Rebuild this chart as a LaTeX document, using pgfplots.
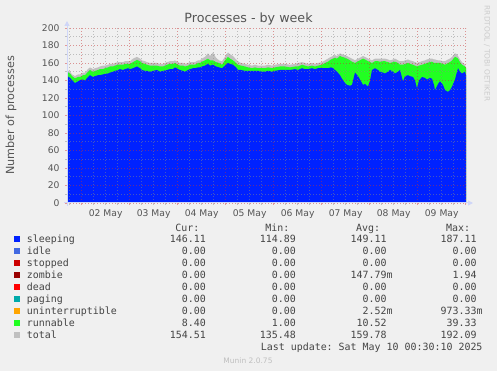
\documentclass[border=0pt]{standalone}
\usepackage{fontspec}
\setmainfont{DejaVu Sans}
\setmonofont{DejaVu Sans Mono}
\usepackage{pgfplots}
\pgfplotsset{compat=1.18}
\usepackage{pgfplotstable}
\usetikzlibrary{arrows.meta}

\definecolor{bg}{HTML}{F0F0F0}
\definecolor{sleepc}{HTML}{0022FF}
\definecolor{idlec}{HTML}{4169E1}
\definecolor{stopc}{HTML}{CC0000}
\definecolor{zombc}{HTML}{990000}
\definecolor{deadc}{HTML}{FF0000}
\definecolor{pagec}{HTML}{00AAAA}
\definecolor{uninc}{HTML}{FFA500}
\definecolor{runc}{HTML}{22FF22}
\definecolor{totc}{HTML}{C0C0C0}
\definecolor{txt}{HTML}{555555}
\definecolor{legtxt}{HTML}{444444}
\definecolor{mgrid}{HTML}{C53535}
\definecolor{gridc}{HTML}{898989}
\definecolor{mtick}{HTML}{E29A9A}
\definecolor{axisc}{HTML}{CFD6F8}

% px = horizontal position on the time axis (48 units per day, 02 May 00:00 at 81.7)
\pgfplotstableread{
px sleep run total
67 145 5 152
70 143 5 150
72 140.5 4.5 147
75 137 5.5 145
78 139 5 147
80 140.5 3.5 147
83 141 5 149
85 140 6 149
88 144 6 153
90 146 6 155
93 144 6 153
95 145 6 154
98 146 6 155
100 146 7 156
103 147 6 157
105 147.5 6.5 157
108 148 7 158
110 149 7 159
113 150 6 159
115 151 6 160
118 152 6 161
120 153 5 161
123 152 6 161
125 153 6 162
128 154 5 162
130 153 6 162
133 154 7 165
137 156 7.5 167
140 154 8 165
142 152 8 163
145 151 8 162
147 151 7 161
150 150 7 160
153 151 6 160
157 152 5 160
160 150 6 159
163 151 5 159
167 152 6 161
170 153 6 162
173 153 6 162
175 155 5 163
178 153 5 161
180 152 5 160
183 151 6 160
185 150 6 159
188 152 5 160
190 153 5 161
193 154 4 161
195 154 4 161
198 155 5 163
200 155 5 163
202 156 5.5 165
205 157 6 167
208 159 6 171
210 157 6 168
213 158 5 172
216 156 5 166
219 155 5 163
222 154 4 162
225 157 6 167
228 160 7 172
230 159 6 170
233 158 5 168
236 155 5 164
238 152 6 162
241 152 5 160
245 151 5 159
248 151 4 158
252 151 3 157
255 151 4 158
258 151 3 157
262 150 4 157
265 150 4 157
268 151 4 158
272 150 4 157
275 151 4 158
280 152 4 159
285 152 4 159
290 152 3 158
295 153 3 159
298 152 4 160
302 154 4 161
305 153 4 160
308 153 3 159
312 154 3 160
315 153 3 159
318 154 3 160
322 154 4 161
325 154 6 163
328 154 7.5 165
331 155 9 167
333 154 11 168
335 152 14 169
337 150 15 168
340 146 22 171
342 142 25 170
345 137 29 169
347 135 30 168
350 134 29 166
352 135 26.5 165
355 149 11 163
358 145 17 165
360 141 22 166
363 135 30 168
365 136 28 167
368 133 29 165
370 140 21 164
372 152 8 163
375 154 8 165
378 152 10 165
380 150 11.5 165
383 149 13 165
385 148 14 165
388 150 11 164
390 152 8 163
393 150 11 164
395 148 13.5 165
398 150 10 163
400 152 6 162
403 139 19 162
405 145 14 163
408 146 14 164
410 145 14 163
413 144 14 162
415 140 17 161
417 131 25 160
419 140 17 161
422 144 14 162
425 143 16 163
427 141 19 164
430 143 18 165
432 142 19.5 165
434 135 25 164
435 129 31 164
438 136 24 163
440 139 21 163
443 135 24 162
445 129 29 162
448 127 33 164
450 129 32 165
452 133 30 167
455 141 26 171
457 150 16 170
458 154 11 168
460 150 11 164
462 148 10 161
465 150 6 158
466 146.11 8.40 154.51
}\procdata

\newcommand{\legrow}[6]{%
  \fill[#2] (14,{371-#1-2.8}) rectangle ++(5.6,5.6);
  \node[anchor=mid west,inner sep=0pt] at (26.7,{371-#1}) {#3};
  \node[anchor=mid east,inner sep=0pt] at (212,{371-#1}) {#4};
  \node[anchor=mid east,inner sep=0pt] at (302,{371-#1}) {#5};
  \node[anchor=mid east,inner sep=0pt] at (392.7,{371-#1}) {#6};
}
\newcommand{\legmax}[2]{\node[anchor=mid east,inner sep=0pt] at (482.7,{371-#1}) {#2};}
\newcommand{\pp}{\phantom{m}}

\begin{document}
\begin{tikzpicture}[x=1pt,y=1pt]
\fill[bg] (0,0) rectangle (497,371);
\begin{axis}[
  at={(67pt,168pt)}, anchor=south west,
  scale only axis, width=399pt, height=175pt,
  xmin=67, xmax=466, ymin=0, ymax=200,
  axis on top,
  axis line style={draw=none},
  xtick={81.7,129.7,177.7,225.7,273.7,321.7,369.7,417.7,465.7},
  xticklabels={},
  minor xtick={69.7,93.7,105.7,117.7,141.7,153.7,165.7,189.7,201.7,213.7,237.7,249.7,261.7,285.7,297.7,309.7,333.7,345.7,357.7,381.7,393.7,405.7,429.7,441.7,453.7},
  extra x ticks={105.7,153.7,201.7,249.7,297.7,345.7,393.7,441.7},
  extra x tick labels={02 May,03 May,04 May,05 May,06 May,07 May,08 May,09 May},
  extra x tick style={grid=none, major tick length=0pt},
  ytick={0,20,...,200},
  minor ytick={10,30,...,190},
  grid=both,
  major grid style={mgrid, opacity=0.5, dash pattern=on 1pt off 2pt, line width=0.6pt},
  minor grid style={gridc, opacity=0.5, dash pattern=on 1pt off 2pt, line width=0.6pt},
  tick align=outside,
  xtick pos=left, ytick pos=left,
  major tick length=2pt, minor tick length=2pt,
  major tick style={mtick, line width=0.6pt},
  minor tick style={black!25, line width=0.6pt},
  tick label style={font=\fontsize{9.2}{10}\selectfont, text=txt},
  /pgf/number format/assume math mode=true,
  xticklabel style={yshift=-3pt},
  yticklabel style={xshift=-2pt},
]
\addplot[fill=totc, draw=none] table[x=px, y=total] {\procdata} \closedcycle;
\addplot[fill=runc, draw=none] table[x=px, y expr=\thisrow{sleep}+\thisrow{run}] {\procdata} \closedcycle;
\addplot[fill=sleepc, draw=none] table[x=px, y=sleep] {\procdata} \closedcycle;
\end{axis}
% axis arrows
\draw[axisc, line width=1pt, -{Triangle[length=5pt,width=5pt]}] (67,165) -- (67,350);
\draw[axisc, line width=1pt, -{Triangle[length=5pt,width=5pt]}] (64,168) -- (473,168);
% title and labels
\node[text=txt, font=\fontsize{12.7}{15}\selectfont] at (248.5,351.5) {Processes - by week};
\node[text=txt, rotate=90, font=\fontsize{11.2}{13}\selectfont] at (11,255.5) {Number of processes};
\node[text=black!20, rotate=-90, font=\fontsize{7.4}{9}\selectfont] at (487,317.5) {RRDTOOL / TOBI OETIKER};
% legend
\begin{scope}[text=legtxt, font=\ttfamily\fontsize{9.95}{12}\selectfont]
\node[anchor=mid east,inner sep=0pt] at (199.5,{371-228.3}) {Cur:};
\node[anchor=mid east,inner sep=0pt] at (289.5,{371-228.3}) {Min:};
\node[anchor=mid east,inner sep=0pt] at (380.2,{371-228.3}) {Avg:};
\node[anchor=mid east,inner sep=0pt] at (470.2,{371-228.3}) {Max:};
\legrow{239.3}{sleepc}{sleeping}{146.11\pp}{114.89\pp}{149.11\pp}\legmax{239.3}{187.11\pp}
\legrow{251.3}{idlec}{idle}{0.00\pp}{0.00\pp}{0.00\pp}\legmax{251.3}{0.00\pp}
\legrow{263.3}{stopc}{stopped}{0.00\pp}{0.00\pp}{0.00\pp}\legmax{263.3}{0.00\pp}
\legrow{275.3}{zombc}{zombie}{0.00\pp}{0.00\pp}{147.79m}\legmax{275.3}{1.94\pp}
\legrow{287.3}{deadc}{dead}{0.00\pp}{0.00\pp}{0.00\pp}\legmax{287.3}{0.00\pp}
\legrow{299.3}{pagec}{paging}{0.00\pp}{0.00\pp}{0.00\pp}\legmax{299.3}{0.00\pp}
\legrow{311.3}{uninc}{uninterruptible}{0.00\pp}{0.00\pp}{2.52m}\legmax{311.3}{973.33m}
\legrow{323.3}{runc}{runnable}{8.40\pp}{1.00\pp}{10.52\pp}\legmax{323.3}{39.33\pp}
\legrow{335.3}{totc}{total}{154.51\pp}{135.48\pp}{159.78\pp}\legmax{335.3}{192.09\pp}
\node[anchor=mid east,inner sep=0pt] at (482.7,{371-347.3}) {Last update: Sat May 10 00:30:10 2025};
\end{scope}
\node[text=black!25, font=\fontsize{7.5}{9}\selectfont] at (248,{371-360.7}) {Munin 2.0.75};
\pgfresetboundingbox
\path[use as bounding box] (0,0) rectangle (497,371);
\end{tikzpicture}
\end{document}
